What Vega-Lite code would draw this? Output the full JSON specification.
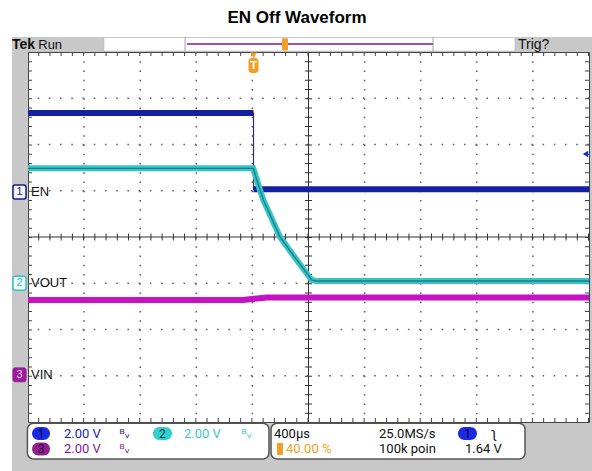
{
"$schema": "https://vega.github.io/schema/vega-lite/v6.json",
"width": 561, "height": 370,
"autosize": "none",
"padding": {"left": 28, "top": 52, "right": 3, "bottom": 49},
"background": "#c8c8c8",
"config": {"view": {"fill": "white", "stroke": "#444", "strokeWidth": 1}, "font": "Liberation Sans"},
"data": {"values": [{}]},
"datasets": {
 "ch1": [{"seg":"hi","t":-1600,"v":2.68},{"seg":"hi","t":8,"v":2.68},{"seg":"lo","t":8,"v":1.03},{"seg":"lo","t":2400,"v":1.03}],
 "ch2": [{"t":-1600,"v":1.485},{"t":6,"v":1.485},{"t":54,"v":1.016},{"t":78,"v":0.8},{"t":197,"v":0.0},{"t":316,"v":-0.497},{"t":423,"v":-0.93},{"t":454,"v":-0.951},{"t":2400,"v":-0.951}],
 "ch3": [{"t":-1600,"v":-1.362},{"t":-67,"v":-1.362},{"t":104,"v":-1.308},{"t":2400,"v":-1.308}]
},
"layer": [
 {"mark":{"type":"rect","color":"white"},"encoding":{"x":{"datum":-1800,"scale":{"domain":[-1600,2400],"nice":false,"zero":false},"axis":null},"x2":{"datum":2430},"y":{"datum":5.3,"scale":{"domain":[-4,4],"nice":false,"zero":false},"axis":null},"y2":{"datum":4.324}}},
 {"mark":{"type":"rect","color":"white"},"encoding":{"x":{"datum":-1800,"axis":null},"x2":{"datum":-1714},"y":{"datum":5.3,"axis":null},"y2":{"datum":-5.3}}},
 {"mark":{"type":"rect","fill":"white","stroke":"#b0b0b0","strokeWidth":0.5},"encoding":{"x":{"datum":-1058,"axis":null},"x2":{"datum":1872},"y":{"datum":4.3135,"axis":null},"y2":{"datum":4.0216}}},
 {"mark":{"type":"rule","color":"#a0a0a0","strokeWidth":1},"encoding":{"x":{"datum":-480,"axis":null},"y":{"datum":4.3135,"axis":null},"y2":{"datum":4.0216}}},
 {"mark":{"type":"rule","color":"#a0a0a0","strokeWidth":1},"encoding":{"x":{"datum":1288,"axis":null},"y":{"datum":4.3135,"axis":null},"y2":{"datum":4.0216}}},
 {"mark":{"type":"rule","color":"#a050b0","strokeWidth":2},"encoding":{"x":{"datum":-466,"axis":null},"x2":{"datum":1288},"y":{"datum":4.173,"axis":null}}},
 {"mark":{"type":"rect","color":"#f0a028","cornerRadius":1},"encoding":{"x":{"datum":211,"axis":null},"x2":{"datum":254},"y":{"datum":4.30,"axis":null},"y2":{"datum":4.03}}},
 {"mark":{"type":"text","text":"Tek","align":"left","baseline":"alphabetic","fontSize":14,"fontWeight":"bold","color":"#111"},"encoding":{"x":{"datum":-1714,"axis":null},"y":{"datum":4.06,"axis":null}}},
 {"mark":{"type":"text","text":"Run","align":"left","baseline":"alphabetic","fontSize":13,"color":"#111"},"encoding":{"x":{"datum":-1527,"axis":null},"y":{"datum":4.06,"axis":null}}},
 {"mark":{"type":"text","text":"Trig?","align":"left","baseline":"alphabetic","fontSize":14,"color":"#111"},"encoding":{"x":{"datum":1894,"axis":null},"y":{"datum":4.06,"axis":null}}},
 {"mark":{"type":"text","text":"EN Off Waveform","align":"center","baseline":"middle","fontSize":17,"fontWeight":"bold","color":"black"},"encoding":{"x":{"datum":318,"axis":null},"y":{"datum":4.735,"axis":null}}},

 {"mark":{"type":"rule","color":"#666","strokeWidth":1.6,"strokeDash":[1.6,7.65]},"encoding":{"x":{"datum":-1200,"axis":null}}},
 {"mark":{"type":"rule","color":"#666","strokeWidth":1.6,"strokeDash":[1.6,7.65]},"encoding":{"x":{"datum":-800,"axis":null}}},
 {"mark":{"type":"rule","color":"#666","strokeWidth":1.6,"strokeDash":[1.6,7.65]},"encoding":{"x":{"datum":-400,"axis":null}}},
 {"mark":{"type":"rule","color":"#666","strokeWidth":1.6,"strokeDash":[1.6,7.65]},"encoding":{"x":{"datum":0,"axis":null}}},
 {"mark":{"type":"rule","color":"#666","strokeWidth":1.6,"strokeDash":[1.6,7.65]},"encoding":{"x":{"datum":800,"axis":null}}},
 {"mark":{"type":"rule","color":"#666","strokeWidth":1.6,"strokeDash":[1.6,7.65]},"encoding":{"x":{"datum":1200,"axis":null}}},
 {"mark":{"type":"rule","color":"#666","strokeWidth":1.6,"strokeDash":[1.6,7.65]},"encoding":{"x":{"datum":1600,"axis":null}}},
 {"mark":{"type":"rule","color":"#666","strokeWidth":1.6,"strokeDash":[1.6,7.65]},"encoding":{"x":{"datum":2000,"axis":null}}},
 {"mark":{"type":"rule","color":"#666","strokeWidth":1.6,"strokeDash":[1.6,9.62]},"encoding":{"y":{"datum":3,"axis":null}}},
 {"mark":{"type":"rule","color":"#666","strokeWidth":1.6,"strokeDash":[1.6,9.62]},"encoding":{"y":{"datum":2,"axis":null}}},
 {"mark":{"type":"rule","color":"#666","strokeWidth":1.6,"strokeDash":[1.6,9.62]},"encoding":{"y":{"datum":1,"axis":null}}},
 {"mark":{"type":"rule","color":"#666","strokeWidth":1.6,"strokeDash":[1.6,9.62]},"encoding":{"y":{"datum":-1,"axis":null}}},
 {"mark":{"type":"rule","color":"#666","strokeWidth":1.6,"strokeDash":[1.6,9.62]},"encoding":{"y":{"datum":-2,"axis":null}}},
 {"mark":{"type":"rule","color":"#666","strokeWidth":1.6,"strokeDash":[1.6,9.62]},"encoding":{"y":{"datum":-3,"axis":null}}},

 {"mark":{"type":"rule","color":"#333","strokeWidth":1},"encoding":{"y":{"datum":0,"axis":null}}},
 {"mark":{"type":"rule","color":"#333","strokeWidth":7,"strokeDash":[1,10.22]},"encoding":{"y":{"datum":0,"axis":null}}},
 {"mark":{"type":"rule","color":"#333","strokeWidth":1},"encoding":{"x":{"datum":400,"axis":null}}},
 {"mark":{"type":"rule","color":"#333","strokeWidth":7,"strokeDash":[1,8.25]},"encoding":{"x":{"datum":400,"axis":null}}},
 {"mark":{"type":"rule","color":"#444","strokeWidth":8,"strokeDash":[1,10.22],"clip":true},"encoding":{"y":{"datum":4,"axis":null}}},
 {"mark":{"type":"rule","color":"#444","strokeWidth":8,"strokeDash":[1,10.22],"clip":true},"encoding":{"y":{"datum":-4,"axis":null}}},
 {"mark":{"type":"rule","color":"#444","strokeWidth":8,"strokeDash":[1,8.25],"clip":true},"encoding":{"x":{"datum":-1600,"axis":null}}},
 {"mark":{"type":"rule","color":"#444","strokeWidth":8,"strokeDash":[1,8.25],"clip":true},"encoding":{"x":{"datum":2400,"axis":null}}},

 {"data":{"name":"ch3"},"mark":{"type":"line","color":"#c412c4","strokeWidth":6,"clip":true},"encoding":{"x":{"field":"t","type":"quantitative","axis":null},"y":{"field":"v","type":"quantitative","axis":null}}},
 {"data":{"name":"ch1"},"mark":{"type":"line","color":"#303070","strokeWidth":1.2,"clip":true},"encoding":{"x":{"field":"t","type":"quantitative","axis":null},"y":{"field":"v","type":"quantitative","axis":null}}},
 {"data":{"name":"ch1"},"mark":{"type":"line","color":"#1520a0","strokeWidth":6,"clip":true},"encoding":{"x":{"field":"t","type":"quantitative","axis":null},"y":{"field":"v","type":"quantitative","axis":null},"detail":{"field":"seg"}}},
 {"data":{"name":"ch2"},"mark":{"type":"line","color":"#36c4c8","strokeWidth":6,"clip":true},"encoding":{"x":{"field":"t","type":"quantitative","axis":null},"y":{"field":"v","type":"quantitative","axis":null}}},
 {"data":{"name":"ch2"},"mark":{"type":"line","color":"#1f7c80","strokeWidth":1.3,"clip":true},"encoding":{"x":{"field":"t","type":"quantitative","axis":null},"y":{"field":"v","type":"quantitative","axis":null}}},

 {"mark":{"type":"point","shape":"triangle-down","filled":true,"size":45,"color":"#f0a028","opacity":1},"encoding":{"x":{"datum":8,"axis":null},"y":{"datum":3.924,"axis":null}}},
 {"mark":{"type":"rect","color":"#f0a028","cornerRadius":3},"encoding":{"x":{"datum":-28,"axis":null},"x2":{"datum":43.5},"y":{"datum":3.87,"axis":null},"y2":{"datum":3.546}}},
 {"mark":{"type":"text","text":"T","align":"center","baseline":"middle","fontSize":11,"fontWeight":"bold","color":"white"},"encoding":{"x":{"datum":8,"axis":null},"y":{"datum":3.70,"axis":null}}},
 {"mark":{"type":"point","shape":"triangle-left","filled":true,"size":40,"color":"#1030d0","opacity":1},"encoding":{"x":{"datum":2375,"axis":null},"y":{"datum":1.795,"axis":null}}},

 {"mark":{"type":"rect","fill":"#f4f4ff","stroke":"#1a1a90","strokeWidth":1.5,"cornerRadius":2},"encoding":{"x":{"datum":-1707,"axis":null},"x2":{"datum":-1614},"y":{"datum":1.124,"axis":null},"y2":{"datum":0.822}}},
 {"mark":{"type":"rect","fill":"#f0ffff","stroke":"#30c0c8","strokeWidth":1.5,"cornerRadius":2},"encoding":{"x":{"datum":-1707,"axis":null},"x2":{"datum":-1614},"y":{"datum":-0.85,"axis":null},"y2":{"datum":-1.15}}},
 {"mark":{"type":"rect","fill":"#9a1a9a","stroke":"#9a1a9a","strokeWidth":1,"cornerRadius":2},"encoding":{"x":{"datum":-1707,"axis":null},"x2":{"datum":-1614},"y":{"datum":-2.83,"axis":null},"y2":{"datum":-3.13}}},
 {"mark":{"type":"text","text":"1","align":"center","baseline":"middle","fontSize":11,"color":"#1a1a90"},"encoding":{"x":{"datum":-1660,"axis":null},"y":{"datum":0.973,"axis":null}}},
 {"mark":{"type":"text","text":"2","align":"center","baseline":"middle","fontSize":11,"color":"#30b8c0"},"encoding":{"x":{"datum":-1660,"axis":null},"y":{"datum":-1.0,"axis":null}}},
 {"mark":{"type":"text","text":"3","align":"center","baseline":"middle","fontSize":11,"color":"#f0d0f0"},"encoding":{"x":{"datum":-1660,"axis":null},"y":{"datum":-2.98,"axis":null}}},
 {"mark":{"type":"text","text":"EN","align":"left","baseline":"middle","fontSize":13,"color":"#111"},"encoding":{"x":{"datum":-1578,"axis":null},"y":{"datum":0.97,"axis":null}}},
 {"mark":{"type":"text","text":"VOUT","align":"left","baseline":"middle","fontSize":13,"color":"#111"},"encoding":{"x":{"datum":-1578,"axis":null},"y":{"datum":-1.0,"axis":null}}},
 {"mark":{"type":"text","text":"VIN","align":"left","baseline":"middle","fontSize":13,"color":"#111"},"encoding":{"x":{"datum":-1578,"axis":null},"y":{"datum":-2.98,"axis":null}}},

 {"mark":{"type":"rect","fill":"white","stroke":"#555","strokeWidth":1.5,"cornerRadius":6},"encoding":{"x":{"datum":-1604,"axis":null},"x2":{"datum":118},"y":{"datum":-4.028,"axis":null},"y2":{"datum":-4.80}}},
 {"mark":{"type":"rect","fill":"white","stroke":"#555","strokeWidth":1.5,"cornerRadius":6},"encoding":{"x":{"datum":133,"axis":null},"x2":{"datum":1944},"y":{"datum":-4.028,"axis":null},"y2":{"datum":-4.80}}},
 {"mark":{"type":"rect","color":"#1a2ae0","cornerRadius":6.5},"encoding":{"x":{"datum":-1571,"axis":null},"x2":{"datum":-1443},"y":{"datum":-4.108,"axis":null},"y2":{"datum":-4.389}}},
 {"mark":{"type":"rect","color":"#30d0d0","cornerRadius":6.5},"encoding":{"x":{"datum":-709,"axis":null},"x2":{"datum":-573},"y":{"datum":-4.108,"axis":null},"y2":{"datum":-4.389}}},
 {"mark":{"type":"rect","color":"#902090","cornerRadius":6.5},"encoding":{"x":{"datum":-1571,"axis":null},"x2":{"datum":-1443},"y":{"datum":-4.443,"axis":null},"y2":{"datum":-4.724}}},
 {"mark":{"type":"rect","color":"#1a2ae0","cornerRadius":6.5},"encoding":{"x":{"datum":1466,"axis":null},"x2":{"datum":1601},"y":{"datum":-4.108,"axis":null},"y2":{"datum":-4.389}}},
 {"mark":{"type":"text","text":"1","align":"center","baseline":"middle","font":"Roboto","fontSize":12,"color":"#000050"},"encoding":{"x":{"datum":-1507,"axis":null},"y":{"datum":-4.255,"axis":null}}},
 {"mark":{"type":"text","text":"2","align":"center","baseline":"middle","font":"Roboto","fontSize":12,"color":"#003838"},"encoding":{"x":{"datum":-641,"axis":null},"y":{"datum":-4.255,"axis":null}}},
 {"mark":{"type":"text","text":"3","align":"center","baseline":"middle","font":"Roboto","fontSize":12,"color":"#300030"},"encoding":{"x":{"datum":-1507,"axis":null},"y":{"datum":-4.584,"axis":null}}},
 {"mark":{"type":"text","text":"1","align":"center","baseline":"middle","font":"Roboto","fontSize":12,"color":"#000050"},"encoding":{"x":{"datum":1534,"axis":null},"y":{"datum":-4.255,"axis":null}}},
 {"mark":{"type":"text","text":"2.00 V","align":"left","baseline":"middle","font":"Roboto","fontSize":13,"color":"#2020c0"},"encoding":{"x":{"datum":-1343,"axis":null},"y":{"datum":-4.255,"axis":null}}},
 {"mark":{"type":"text","text":"2.00 V","align":"left","baseline":"middle","font":"Roboto","fontSize":13,"color":"#3cc8c8"},"encoding":{"x":{"datum":-488,"axis":null},"y":{"datum":-4.255,"axis":null}}},
 {"mark":{"type":"text","text":"2.00 V","align":"left","baseline":"middle","font":"Roboto","fontSize":13,"color":"#8a1a9a"},"encoding":{"x":{"datum":-1343,"axis":null},"y":{"datum":-4.584,"axis":null}}},
 {"mark":{"type":"text","text":"ᴮᵥ","align":"left","baseline":"middle","font":"DejaVu Sans","fontSize":13,"color":"#2020c0"},"encoding":{"x":{"datum":-950,"axis":null},"y":{"datum":-4.255,"axis":null}}},
 {"mark":{"type":"text","text":"ᴮᵥ","align":"left","baseline":"middle","font":"DejaVu Sans","fontSize":13,"color":"#3cc8c8"},"encoding":{"x":{"datum":-80,"axis":null},"y":{"datum":-4.255,"axis":null}}},
 {"mark":{"type":"text","text":"ᴮᵥ","align":"left","baseline":"middle","font":"DejaVu Sans","fontSize":13,"color":"#8a1a9a"},"encoding":{"x":{"datum":-950,"axis":null},"y":{"datum":-4.584,"axis":null}}},
 {"mark":{"type":"text","text":"400µs","align":"left","baseline":"middle","font":"Roboto","fontSize":13,"color":"#111"},"encoding":{"x":{"datum":154,"axis":null},"y":{"datum":-4.255,"axis":null}}},
 {"mark":{"type":"rect","color":"#f0a028","cornerRadius":1},"encoding":{"x":{"datum":175,"axis":null},"x2":{"datum":218},"y":{"datum":-4.454,"axis":null},"y2":{"datum":-4.714}}},
 {"mark":{"type":"text","text":"40.00 %","align":"left","baseline":"middle","font":"Roboto","fontSize":13,"color":"#f0a028"},"encoding":{"x":{"datum":240,"axis":null},"y":{"datum":-4.584,"axis":null}}},
 {"mark":{"type":"text","text":"25.0MS/s","align":"left","baseline":"middle","font":"Roboto","fontSize":13,"color":"#111"},"encoding":{"x":{"datum":903,"axis":null},"y":{"datum":-4.255,"axis":null}}},
 {"mark":{"type":"text","text":"100k poin","align":"left","baseline":"middle","font":"Roboto","fontSize":13,"color":"#111"},"encoding":{"x":{"datum":903,"axis":null},"y":{"datum":-4.584,"axis":null}}},
 {"mark":{"type":"text","text":"ʅ","align":"center","baseline":"middle","font":"DejaVu Sans","fontSize":14,"color":"#111"},"encoding":{"x":{"datum":1723,"axis":null},"y":{"datum":-4.255,"axis":null}}},
 {"mark":{"type":"text","text":"1.64 V","align":"left","baseline":"middle","font":"Roboto","fontSize":13,"color":"#111"},"encoding":{"x":{"datum":1516,"axis":null},"y":{"datum":-4.584,"axis":null}}}
]
}
